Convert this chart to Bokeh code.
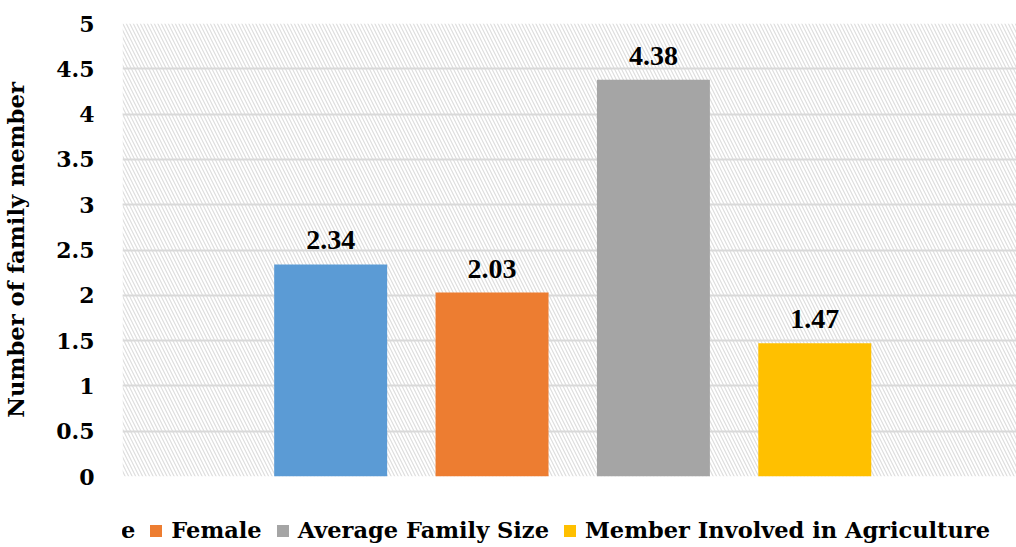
from bokeh.plotting import figure
from bokeh.layouts import column
from bokeh.models import (ColumnDataSource, FixedTicker, BoxAnnotation, LabelSet,
                          Legend, LegendItem, Range1d)
from bokeh.embed import file_html
from bokeh.resources import INLINE

# Household composition (mean number of members)
categories = ["Male", "Female", "Average Family Size", "Member Involved in Agriculture"]
values = [2.34, 2.03, 4.38, 1.47]
colors = ["#5B9BD5", "#ED7D31", "#A5A5A5", "#FFC000"]

y_ticks = [0, 0.5, 1, 1.5, 2, 2.5, 3, 3.5, 4, 4.5, 5]
y_tick_labels = ["0", "0.5", "1", "1.5", "2", "2.5", "3", "3.5", "4", "4.5", "5"]

FONT = "DejaVu Serif"

source = ColumnDataSource(dict(
    x=list(range(1, len(categories) + 1)),
    top=values,
    color=colors,
    label=categories,
    text=[f"{v:.2f}" for v in values],
))

p = figure(width=1016, height=500, output_backend="svg", toolbar_location=None,
           x_range=Range1d(-0.29, 5.25), y_range=Range1d(0, 5),
           min_border_left=122, min_border_right=0, min_border_top=23,
           min_border_bottom=24)
p.outline_line_color = None
p.background_fill_color = "white"
p.border_fill_color = "white"

# Hatched plot-area background
bg = BoxAnnotation(fill_color="white", fill_alpha=1.0, line_color=None,
                   hatch_pattern="\\", hatch_color="#dedede", hatch_scale=7,
                   hatch_weight=1.2, level="image")
p.add_layout(bg)

bars = p.vbar(x="x", top="top", width=0.70, bottom=0, color="color",
              line_color=None, source=source)

labels = LabelSet(x="x", y="top", text="text", source=source, y_offset=15,
                  text_align="center", text_baseline="bottom",
                  text_font=FONT, text_font_style="bold",
                  text_font_size="28px", text_color="black")
p.add_layout(labels)

# Axes
p.xaxis.visible = False
p.xgrid.visible = False
p.ygrid.grid_line_color = "#d9d9d9"
p.ygrid.grid_line_width = 2
p.yaxis.ticker = FixedTicker(ticks=y_ticks)
p.yaxis.major_label_overrides = {t: l for t, l in zip(y_ticks, y_tick_labels)}
p.yaxis.axis_line_color = None
p.yaxis.major_tick_line_color = None
p.yaxis.minor_tick_line_color = None
p.yaxis.major_label_standoff = 22
p.yaxis.major_label_text_font = FONT
p.yaxis.major_label_text_font_style = "bold"
p.yaxis.major_label_text_font_size = "22px"
p.yaxis.major_label_text_color = "black"
p.yaxis.axis_label = "Number of family member"
p.yaxis.axis_label_text_font = FONT
p.yaxis.axis_label_text_font_style = "bold"
p.yaxis.axis_label_text_font_size = "22.7px"
p.yaxis.axis_label_text_color = "black"
p.yaxis.axis_label_standoff = 24

# Legend strip below the chart
leg = figure(width=1016, height=47, output_backend="svg", toolbar_location=None,
             x_range=Range1d(0, 1), y_range=Range1d(10, 11),
             x_axis_location=None, y_axis_location=None,
             min_border_left=0, min_border_right=0, min_border_top=0,
             min_border_bottom=0)
leg.outline_line_color = None
leg.grid.visible = False
leg_bars = leg.vbar(x="x", top="top", width=0.70, bottom=0, color="color",
                    line_color=None, source=source)

items = [LegendItem(label=c, renderers=[leg_bars], index=i) for i, c in enumerate(categories)]
legend = Legend(items=items, orientation="horizontal", location=(-72, 4),
                glyph_width=15, glyph_height=15, label_standoff=8, spacing=13,
                padding=0, margin=0, border_line_color=None,
                background_fill_alpha=0,
                label_text_font=FONT, label_text_font_style="bold",
                label_text_font_size="22.5px", label_text_color="black")
leg.add_layout(legend, "center")

layout = column(p, leg, spacing=0)
open("out.html", "w").write(file_html(layout, INLINE))
